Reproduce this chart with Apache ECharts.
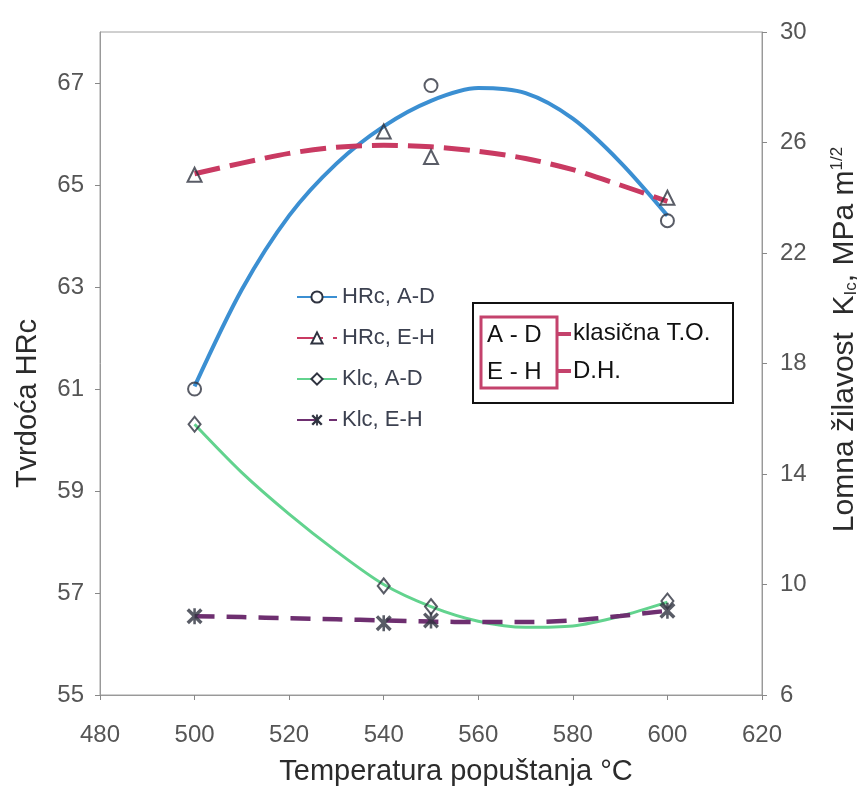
<!DOCTYPE html>
<html><head><meta charset="utf-8">
<script src="https://cdn.jsdelivr.net/npm/echarts@6/dist/echarts.min.js"></script>
<style>html,body{margin:0;padding:0;background:#fff}#c{width:861px;height:789px}</style>
</head><body><div id="c"></div>
<script>
// measured points (markers)
const pointTemps = [500, 540, 550, 600];
const hrcAD = [61.0, null, 66.95, 64.3];
const hrcEH = [65.2, 66.05, 65.55, 64.75];
const klcAD = [15.8, 9.95, 9.2, 9.4];
const klcEH = [8.85, 8.6, 8.7, 9.05];
// fitted trend curves
const curveTemps = [500, 510, 520, 530, 540, 550, 560, 570, 580, 590, 600];
const hrcADFit = [61.05, 62.95, 64.4, 65.42, 66.15, 66.65, 66.9, 66.8, 66.3, 65.45, 64.4];
const hrcEHFit = [65.22, 65.43, 65.62, 65.74, 65.78, 65.75, 65.66, 65.52, 65.3, 65.0, 64.68];
const klcADFit = [15.8, 14.05, 12.55, 11.2, 10.0, 9.2, 8.67, 8.45, 8.5, 8.85, 9.36];
const klcEHFit = [8.85, 8.82, 8.78, 8.74, 8.7, 8.66, 8.64, 8.64, 8.7, 8.86, 9.05];
// series names and annotation box text
const seriesNames = ['HRc, A-D', 'HRc, E-H', 'Klc, A-D', 'Klc, E-H'];
const boxCodes = ['A - D', 'E - H'];
const boxTexts = ['klasična T.O.', 'D.H.'];
// axes
const xRange = [480, 620, 20];
const hrcRange = [55, 68, 2];
const klcRange = [6, 30, 4];

const FONT = '"Liberation Sans", Arial, sans-serif';
const pair = (xs, ys) => xs.map((x, i) => [x, ys[i]]).filter(p => p[1] !== null);
const starPath = 'path://M1.5,0L5,3.5L8.5,0L10,1.5L6.5,5L10,8.5L8.5,10L5,6.5L1.5,10L0,8.5L3.5,5L0,1.5Z M4.2,0L5.8,0L5.8,10L4.2,10Z';
const markerColor = '#2f3340';

const chart = echarts.init(document.getElementById('c'), null, {renderer: 'canvas'});

function lineSeries(name, data, yIdx, color, width, type, symbol) {
  return {
    name, type: 'line', yAxisIndex: yIdx, data, smooth: 0.3,
    showSymbol: false, symbol: symbol, symbolSize: 11,
    lineStyle: {color, width, type},
    itemStyle: {color: markerColor},
    emphasis: {disabled: true}, z: 2
  };
}
function pointSeries(name, data, yIdx, symbol, size) {
  return {
    name, type: 'scatter', yAxisIndex: yIdx, data, symbol, symbolSize: size,
    itemStyle: symbol.indexOf('path') === 0 ? {color: markerColor} :
      {color: 'rgba(255,255,255,0)', borderColor: markerColor, borderWidth: 2},
    emphasis: {disabled: true}, z: 5
  };
}

chart.setOption({
  animation: false,
  backgroundColor: '#fff',
  textStyle: {fontFamily: FONT},
  grid: {left: 100, right: 99, top: 32, bottom: 94, show: true, borderColor: '#a0a0a0', borderWidth: 1,
    containLabel: false, outerBoundsMode: 'none'},
  legend: {
    data: seriesNames, orient: 'vertical', left: 291, top: 281,
    itemWidth: 40, itemHeight: 14, itemGap: 19,
    textStyle: {fontSize: 22, color: '#3c4150', fontFamily: FONT}
  },
  xAxis: {
    type: 'value', min: xRange[0], max: xRange[1], interval: xRange[2],
    name: 'Temperatura popuštanja °C', nameLocation: 'middle', nameGap: 62,
    nameTextStyle: {fontSize: 29, color: '#2b2b2b', padding: [0, 0, 0, 50]},
    axisLine: {lineStyle: {color: '#999', width: 1}},
    axisTick: {show: true, inside: false, length: 5, lineStyle: {color: '#888'}},
    axisLabel: {fontSize: 24, color: '#555', margin: 28},
    splitLine: {show: false}
  },
  yAxis: [{
    type: 'value', position: 'left', min: hrcRange[0], max: hrcRange[1], interval: hrcRange[2],
    name: 'Tvrdoća HRc', nameLocation: 'middle', nameGap: 58, nameRotate: 90,
    nameTextStyle: {fontSize: 29, color: '#2b2b2b', padding: [0, 80, 0, 0]},
    axisLine: {show: true, lineStyle: {color: '#999', width: 1}},
    axisTick: {show: true, length: 5, lineStyle: {color: '#888'}},
    axisLabel: {fontSize: 24, color: '#555', margin: 16, showMaxLabel: false},
    splitLine: {show: false}
  }, {
    type: 'value', position: 'right', min: klcRange[0], max: klcRange[1], interval: klcRange[2],
    name: 'Lomna žilavost  K{sub|Ic}, MPa m{sup|1/2}', nameLocation: 'middle', nameGap: 67, nameRotate: 90,
    nameTextStyle: {fontSize: 30, color: '#2b2b2b', padding: [0, 0, 0, 48],
      rich: {
        sub: {fontSize: 17, color: '#2b2b2b', padding: [14, 0, 0, 0]},
        sup: {fontSize: 17, color: '#2b2b2b', padding: [0, 0, 14, 0]}
      }},
    axisLine: {show: true, lineStyle: {color: '#999', width: 1}},
    axisTick: {show: true, length: 5, lineStyle: {color: '#888'}},
    axisLabel: {fontSize: 24, color: '#555', margin: 18},
    splitLine: {show: false}
  }],
  series: [
    lineSeries(seriesNames[0], pair(curveTemps, hrcADFit), 0, '#3b8fd2', 4, 'solid', 'emptyCircle'),
    lineSeries(seriesNames[1], pair(curveTemps, hrcEHFit), 0, '#c93a62', 5, [26, 10], 'emptyTriangle'),
    lineSeries(seriesNames[2], pair(curveTemps, klcADFit), 1, '#62d38e', 3, 'solid', 'emptyDiamond'),
    lineSeries(seriesNames[3], pair(curveTemps, klcEHFit), 1, '#6e2f70', 4.5, [20, 12], starPath),
    pointSeries('HRc, A-D pts', pair(pointTemps, hrcAD), 0, 'circle', 13),
    pointSeries('HRc, E-H pts', pair(pointTemps, hrcEH), 0, 'triangle', 14),
    pointSeries('Klc, A-D pts', pair(pointTemps, klcAD), 1, 'diamond', [12, 15]),
    pointSeries('Klc, E-H pts', pair(pointTemps, klcEH), 1, starPath, 16)
  ],
  graphic: [
    {type: 'rect', z: 10, shape: {x: 473, y: 303, width: 260, height: 100}, style: {fill: '#fff', stroke: '#111', lineWidth: 2}},
    {type: 'rect', z: 11, shape: {x: 481, y: 317, width: 76, height: 71}, style: {fill: 'none', stroke: '#c4426c', lineWidth: 3}},
    {type: 'rect', z: 11, shape: {x: 557, y: 332, width: 14, height: 4}, style: {fill: '#c4426c'}},
    {type: 'rect', z: 11, shape: {x: 557, y: 369, width: 14, height: 4}, style: {fill: '#c4426c'}},
    {type: 'text', z: 12, x: 487, y: 335, style: {text: boxCodes[0], fontSize: 24, fontFamily: FONT, fill: '#111', verticalAlign: 'middle'}},
    {type: 'text', z: 12, x: 487, y: 372, style: {text: boxCodes[1], fontSize: 24, fontFamily: FONT, fill: '#111', verticalAlign: 'middle'}},
    {type: 'text', z: 12, x: 573, y: 333, style: {text: boxTexts[0], fontSize: 24, fontFamily: FONT, fill: '#111', verticalAlign: 'middle'}},
    {type: 'text', z: 12, x: 573, y: 371, style: {text: boxTexts[1], fontSize: 24, fontFamily: FONT, fill: '#111', verticalAlign: 'middle'}}
  ]
});
</script>
</body></html>
